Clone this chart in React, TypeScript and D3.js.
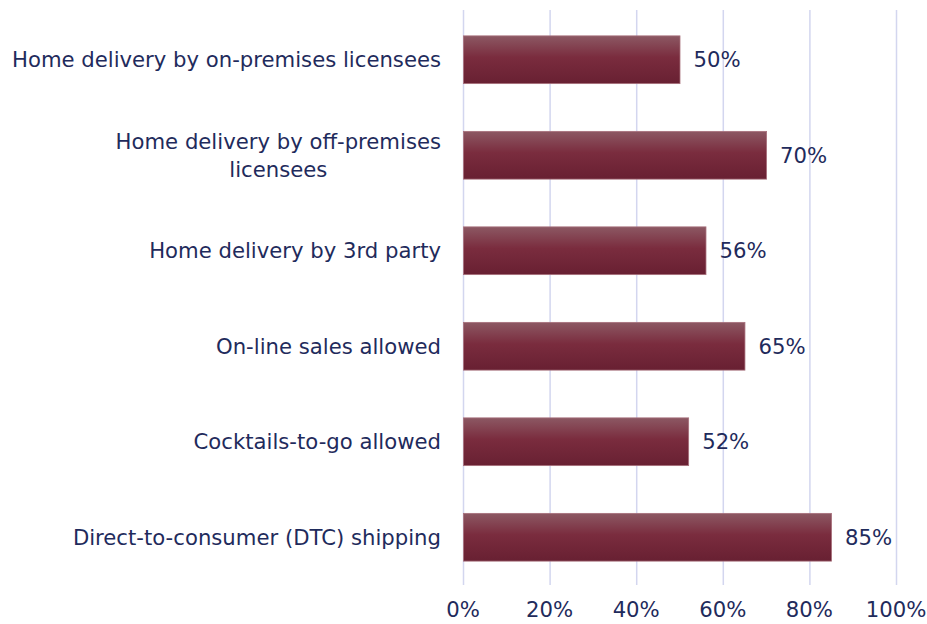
import { useEffect, useRef } from "react";
import * as d3 from "d3";

// Categories from top to bottom, with their share values
const categories = [
  ["Home delivery by on-premises licensees"],
  ["Home delivery by off-premises", "licensees"],
  ["Home delivery by 3rd party"],
  ["On-line sales allowed"],
  ["Cocktails-to-go allowed"],
  ["Direct-to-consumer (DTC) shipping"],
];
const values = [50, 70, 56, 65, 52, 85];
const ticks = [0, 20, 40, 60, 80, 100];

const textColor = "#1f2b5c";
const font = "'DejaVu Sans', sans-serif";
const fontSize = "21.2px";

export default function App() {
  const ref = useRef<SVGSVGElement>(null);

  useEffect(() => {
    const svg = d3.select(ref.current);
    svg.selectAll("*").remove();

    const margin = { top: 12, right: 31, bottom: 39, left: 463 };
    const width = 927 - margin.left - margin.right;
    const height = 624 - margin.top - margin.bottom;

    // gradient for the bars
    const defs = svg.append("defs");
    const grad = defs
      .append("linearGradient")
      .attr("id", "barGrad")
      .attr("x1", 0)
      .attr("y1", 0)
      .attr("x2", 0)
      .attr("y2", 1);
    grad.append("stop").attr("offset", "0%").attr("stop-color", "#8c5863");
    grad.append("stop").attr("offset", "45%").attr("stop-color", "#7a2c3e");
    grad.append("stop").attr("offset", "100%").attr("stop-color", "#682032");

    const g = svg.append("g").attr("transform", `translate(${margin.left},${margin.top})`);

    const x = d3.scaleLinear().domain([0, 100]).range([0, width]);
    const y = d3
      .scaleBand()
      .domain(categories.map((_, i) => String(i)))
      .range([0, height])
      .paddingInner(0.5)
      .paddingOuter(0.25);

    // vertical gridlines
    g.selectAll(".grid")
      .data(ticks)
      .enter()
      .append("line")
      .attr("x1", (d) => x(d) + 0.5)
      .attr("x2", (d) => x(d) + 0.5)
      .attr("y1", -2)
      .attr("y2", height)
      .attr("stroke", "#d3d6ef")
      .attr("stroke-width", 1.5);

    // bars
    g.selectAll(".bar")
      .data(values)
      .enter()
      .append("rect")
      .attr("x", x(0) + 0.5)
      .attr("y", (_, i) => y(String(i))!)
      .attr("width", (d) => x(d) - x(0))
      .attr("height", y.bandwidth())
      .attr("fill", "url(#barGrad)")
      .attr("stroke", "#a8707c")
      .attr("stroke-width", 0.8);

    // value labels
    g.selectAll(".val")
      .data(values)
      .enter()
      .append("text")
      .attr("x", (d) => x(d) + 14)
      .attr("y", (_, i) => y(String(i))! + y.bandwidth() / 2)
      .attr("dy", "0.35em")
      .style("font-family", font)
      .style("font-size", fontSize)
      .style("fill", textColor)
      .text((d) => d + "%");

    // category labels
    const lab = g
      .selectAll(".cat")
      .data(categories)
      .enter()
      .append("text")
      .attr("text-anchor", "middle")
      .style("font-family", font)
      .style("font-size", fontSize)
      .style("fill", textColor)
      .attr("transform", (_, i) => `translate(0,${y(String(i))! + y.bandwidth() / 2})`);

    lab.each(function (lines) {
      const t = d3.select(this);
      const n = lines.length;
      t.selectAll("tspan")
        .data(lines)
        .enter()
        .append("tspan")
        .attr("x", 0)
        .attr("y", (_, j) => (j - (n - 1) / 2) * 28)
        .attr("dy", "0.35em")
        .text((d) => d);
      // right-align the block, centre lines within it
      const w = (this as SVGTextElement).getBBox().width;
      t.selectAll("tspan").attr("x", -22 - w / 2);
    });

    // x axis labels
    g.selectAll(".tick")
      .data(ticks)
      .enter()
      .append("text")
      .attr("x", (d) => x(d))
      .attr("y", height + 32)
      .attr("text-anchor", "middle")
      .style("font-family", font)
      .style("font-size", fontSize)
      .style("fill", textColor)
      .text((d) => d + "%");
  }, []);

  return (
    <svg
      ref={ref}
      width={927}
      height={624}
      style={{ display: "block", position: "absolute", left: 0, top: 0 }}
    />
  );
}
